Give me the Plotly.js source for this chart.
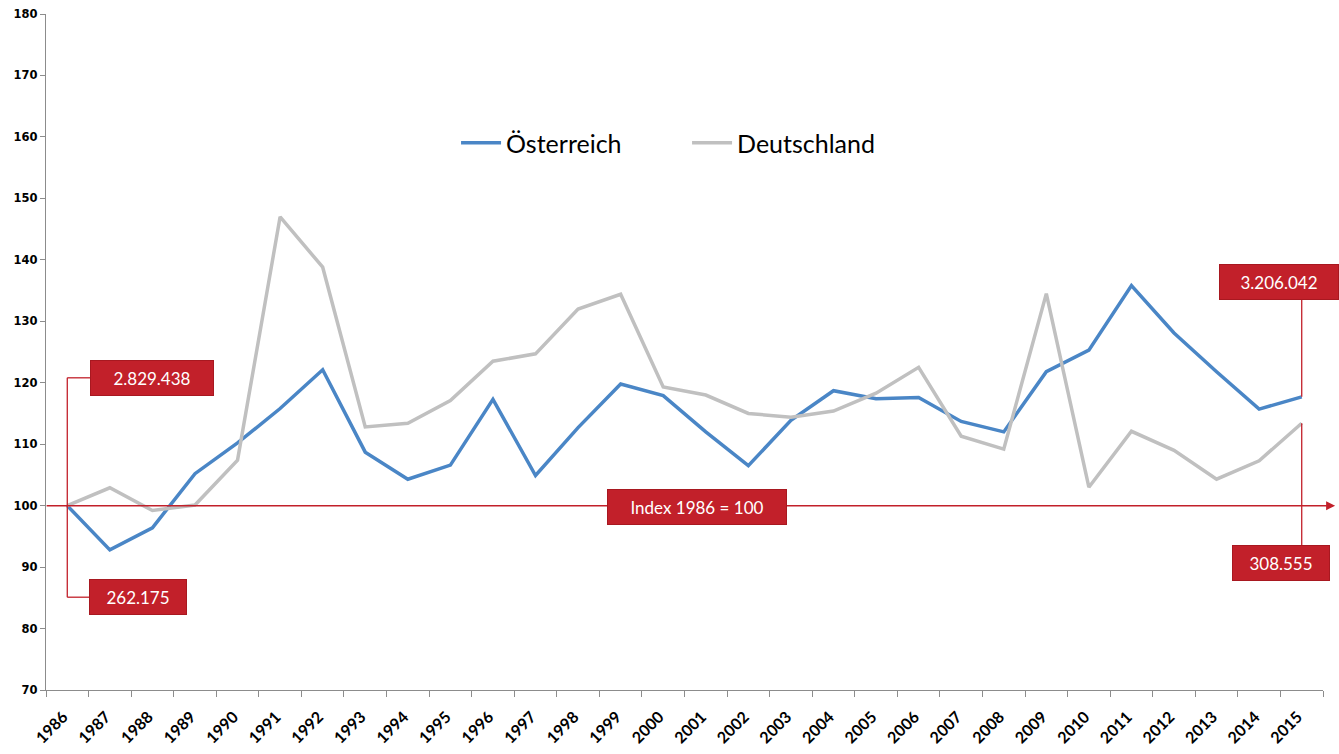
<!DOCTYPE html>
<html>
<head>
<meta charset="utf-8">
<script src="https://cdn.plot.ly/plotly-3.0.1.min.js"></script>
<style>
html,body{margin:0;padding:0;background:#fff;}
#chart{width:1339px;height:754px;}
</style>
</head>
<body>
<div id="chart"></div>
<script>
const years = ["1986","1987","1988","1989","1990","1991","1992","1993","1994","1995","1996","1997","1998","1999","2000","2001","2002","2003","2004","2005","2006","2007","2008","2009","2010","2011","2012","2013","2014","2015"];
const oesterreich = [100,92.8,96.4,105.2,110.2,115.8,122.1,108.7,104.3,106.6,117.3,104.9,112.7,119.8,117.9,112.0,106.5,113.9,118.7,117.4,117.6,113.7,112.0,121.8,125.3,135.8,128.1,121.8,115.7,117.7];
const deutschland = [100,102.9,99.2,100.1,107.4,147.0,138.8,112.8,113.4,117.1,123.5,124.7,132.0,134.4,119.3,118.0,115.0,114.4,115.4,118.3,122.5,111.3,109.2,134.5,103.0,112.1,109.0,104.3,107.3,113.4];
const seriesNames = ["Österreich","Deutschland"];
const calloutTexts = ["2.829.438","262.175","Index 1986 = 100","3.206.042","308.555"];

const RED = "#c2202a";
const traces = [
  {x: years, y: oesterreich, name: seriesNames[0], type: "scatter", mode: "lines",
   line: {color: "#4a86c6", width: 3.5}},
  {x: years, y: deutschland, name: seriesNames[1], type: "scatter", mode: "lines",
   line: {color: "#c0c0c0", width: 3.5}}
];

const last = years.length - 1;
const shapes = [
  {type: "line", xref: "x", yref: "y", x0: 0, x1: 0, y0: 120.8, y1: 85.1, line: {color: RED, width: 1.3}},
  {type: "line", xref: "x", yref: "y", x0: 0, x1: 0.6, y0: 120.8, y1: 120.8, line: {color: RED, width: 1.3}},
  {type: "line", xref: "x", yref: "y", x0: 0, x1: 0.6, y0: 85.1, y1: 85.1, line: {color: RED, width: 1.3}},
  {type: "line", xref: "x", yref: "y", x0: last, x1: last, y0: 134, y1: oesterreich[last], line: {color: RED, width: 1.3}},
  {type: "line", xref: "x", yref: "y", x0: last, x1: last, y0: deutschland[last], y1: 93.5, line: {color: RED, width: 1.3}}
];

function box(text, x, y, w) {
  return {text: text, xref: "x", yref: "y", x: x, y: y, showarrow: false,
    bgcolor: RED, bordercolor: "#a81820", borderwidth: 1, borderpad: 3,
    width: w, height: 28, align: "center", valign: "middle",
    font: {family: "Lato, 'Open Sans', sans-serif", size: 17, color: "#ffffff"}};
}

const annotations = [
  {xref: "paper", yref: "y", x: 1.0095, y: 100, axref: "pixel", ayref: "pixel",
   ax: -1290, ay: 0, showarrow: true, arrowhead: 2, arrowsize: 1.2, arrowwidth: 1.5,
   arrowcolor: RED, text: ""},
  box(calloutTexts[0], 2.0, 120.7, 116),
  box(calloutTexts[1], 1.67, 85.1, 90),
  box(calloutTexts[2], 14.8, 99.8, 172),
  box(calloutTexts[3], 28.47, 136.4, 112),
  box(calloutTexts[4], 28.52, 90.7, 90)
];

const layout = {
  width: 1339, height: 754,
  margin: {l: 46, r: 16, t: 14, b: 64},
  paper_bgcolor: "#ffffff", plot_bgcolor: "#ffffff",
  showlegend: true,
  legend: {orientation: "h", x: 0.502, y: 0.809, xanchor: "center", yanchor: "middle",
    font: {family: "Lato, 'Open Sans', sans-serif", size: 25, color: "#000"},
    itemwidth: 40, entrywidth: 176, entrywidthmode: "pixels", bgcolor: "rgba(0,0,0,0)"},
  xaxis: {type: "category", range: [-0.5, 29.5], tickson: "boundaries",
    showgrid: false, showline: true, linecolor: "#8c8c8c", linewidth: 1.3,
    ticks: "outside", ticklen: 6, tickcolor: "#8c8c8c", tickangle: -45,
    ticklabelstandoff: 10, ticklabelshift: -4,
    tickfont: {family: "Lato, 'Open Sans', sans-serif", size: 16, color: "#000", weight: "bold"},
    zeroline: false},
  yaxis: {range: [70, 180], dtick: 10, showgrid: false, showline: true,
    linecolor: "#8c8c8c", linewidth: 1.3, ticks: "outside", ticklen: 5, tickcolor: "#8c8c8c",
    tickfont: {family: "'DejaVu Sans', sans-serif", size: 11.5, color: "#000", weight: "bold"},
    zeroline: false},
  shapes: shapes,
  annotations: annotations
};

Plotly.newPlot("chart", traces, layout, {displayModeBar: false, staticPlot: true});
</script>
</body>
</html>
